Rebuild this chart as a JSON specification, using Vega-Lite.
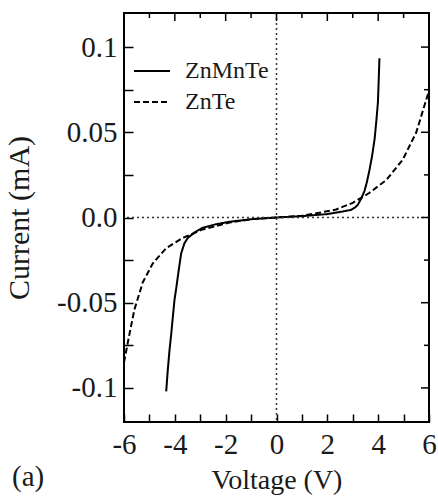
{
  "$schema": "https://vega.github.io/schema/vega-lite/v6.json",
  "width": 305,
  "height": 409,
  "autosize": {"type": "none"},
  "padding": {"left": 124, "top": 13, "right": 9, "bottom": 78},
  "background": "white",
  "title": {"text": "(a)", "orient": "bottom", "anchor": "start", "frame": "group", "font": "Liberation Serif", "fontSize": 29, "fontWeight": "normal", "color": "#1a1a1a", "dx": -112, "dy": -35},
  "config": {
    "font": "Liberation Serif",
    "view": {"stroke": "black", "strokeWidth": 2},
    "axis": {"domain": false, "grid": false, "ticks": true, "tickColor": "black", "tickWidth": 1.5, "labelFont": "Liberation Serif", "labelFontSize": 29, "labelColor": "#1a1a1a", "titleFont": "Liberation Serif", "titleFontSize": 28, "titleFontWeight": "normal", "titleColor": "#1a1a1a"},
    "legend": {"labelFont": "Liberation Serif", "labelFontSize": 24, "labelColor": "#1a1a1a"}
  },
  "datasets": {
    "xticks": [
      {"v": -6, "kind": "major"}, {"v": -5, "kind": "minor"}, {"v": -4, "kind": "major"}, {"v": -3, "kind": "minor"},
      {"v": -2, "kind": "major"}, {"v": -1, "kind": "minor"}, {"v": 0, "kind": "major"}, {"v": 1, "kind": "minor"},
      {"v": 2, "kind": "major"}, {"v": 3, "kind": "minor"}, {"v": 4, "kind": "major"}, {"v": 5, "kind": "minor"}, {"v": 6, "kind": "major"}
    ],
    "yticks": [
      {"v": -0.1, "kind": "major"}, {"v": -0.075, "kind": "minor"}, {"v": -0.05, "kind": "major"}, {"v": -0.025, "kind": "minor"},
      {"v": 0, "kind": "major"}, {"v": 0.025, "kind": "minor"}, {"v": 0.05, "kind": "major"}, {"v": 0.075, "kind": "minor"}, {"v": 0.1, "kind": "major"}
    ]
  },
  "data": {"values": [
    {"sample": "ZnMnTe", "i": 1, "voltage": -4.34, "current": -0.102},
    {"sample": "ZnMnTe", "i": 2, "voltage": -4.28, "current": -0.09},
    {"sample": "ZnMnTe", "i": 3, "voltage": -4.21, "current": -0.078},
    {"sample": "ZnMnTe", "i": 4, "voltage": -4.14, "current": -0.068},
    {"sample": "ZnMnTe", "i": 5, "voltage": -4.07, "current": -0.057},
    {"sample": "ZnMnTe", "i": 6, "voltage": -4.01, "current": -0.048},
    {"sample": "ZnMnTe", "i": 7, "voltage": -3.94, "current": -0.041},
    {"sample": "ZnMnTe", "i": 8, "voltage": -3.88, "current": -0.0345},
    {"sample": "ZnMnTe", "i": 9, "voltage": -3.81, "current": -0.027},
    {"sample": "ZnMnTe", "i": 10, "voltage": -3.75, "current": -0.021},
    {"sample": "ZnMnTe", "i": 11, "voltage": -3.62, "current": -0.015},
    {"sample": "ZnMnTe", "i": 12, "voltage": -3.49, "current": -0.012},
    {"sample": "ZnMnTe", "i": 13, "voltage": -3.2, "current": -0.0085},
    {"sample": "ZnMnTe", "i": 14, "voltage": -2.9, "current": -0.006},
    {"sample": "ZnMnTe", "i": 15, "voltage": -2.4, "current": -0.004},
    {"sample": "ZnMnTe", "i": 16, "voltage": -1.85, "current": -0.0025},
    {"sample": "ZnMnTe", "i": 17, "voltage": -1.0, "current": -0.001},
    {"sample": "ZnMnTe", "i": 18, "voltage": 0, "current": 0},
    {"sample": "ZnMnTe", "i": 19, "voltage": 1.0, "current": 0.0008},
    {"sample": "ZnMnTe", "i": 20, "voltage": 2.0, "current": 0.002},
    {"sample": "ZnMnTe", "i": 21, "voltage": 2.6, "current": 0.0035},
    {"sample": "ZnMnTe", "i": 22, "voltage": 2.94, "current": 0.0045},
    {"sample": "ZnMnTe", "i": 23, "voltage": 3.1, "current": 0.006},
    {"sample": "ZnMnTe", "i": 24, "voltage": 3.2, "current": 0.0075},
    {"sample": "ZnMnTe", "i": 25, "voltage": 3.33, "current": 0.011},
    {"sample": "ZnMnTe", "i": 26, "voltage": 3.46, "current": 0.0155},
    {"sample": "ZnMnTe", "i": 27, "voltage": 3.56, "current": 0.021},
    {"sample": "ZnMnTe", "i": 28, "voltage": 3.66, "current": 0.028},
    {"sample": "ZnMnTe", "i": 29, "voltage": 3.76, "current": 0.036},
    {"sample": "ZnMnTe", "i": 30, "voltage": 3.86, "current": 0.046},
    {"sample": "ZnMnTe", "i": 31, "voltage": 3.93, "current": 0.057},
    {"sample": "ZnMnTe", "i": 32, "voltage": 3.99, "current": 0.0675},
    {"sample": "ZnMnTe", "i": 33, "voltage": 4.02, "current": 0.08},
    {"sample": "ZnMnTe", "i": 34, "voltage": 4.05, "current": 0.0935},
    {"sample": "ZnTe", "i": 1, "voltage": -6.0, "current": -0.085},
    {"sample": "ZnTe", "i": 2, "voltage": -5.78, "current": -0.068},
    {"sample": "ZnTe", "i": 3, "voltage": -5.59, "current": -0.054},
    {"sample": "ZnTe", "i": 4, "voltage": -5.26, "current": -0.038},
    {"sample": "ZnTe", "i": 5, "voltage": -4.87, "current": -0.027},
    {"sample": "ZnTe", "i": 6, "voltage": -4.34, "current": -0.018},
    {"sample": "ZnTe", "i": 7, "voltage": -3.69, "current": -0.012},
    {"sample": "ZnTe", "i": 8, "voltage": -2.9, "current": -0.007},
    {"sample": "ZnTe", "i": 9, "voltage": -1.85, "current": -0.003},
    {"sample": "ZnTe", "i": 10, "voltage": -1.0, "current": -0.001},
    {"sample": "ZnTe", "i": 11, "voltage": 0, "current": 0},
    {"sample": "ZnTe", "i": 12, "voltage": 1.0, "current": 0.001},
    {"sample": "ZnTe", "i": 13, "voltage": 1.69, "current": 0.0028},
    {"sample": "ZnTe", "i": 14, "voltage": 2.35, "current": 0.0047},
    {"sample": "ZnTe", "i": 15, "voltage": 3.0, "current": 0.0086},
    {"sample": "ZnTe", "i": 16, "voltage": 3.66, "current": 0.0145},
    {"sample": "ZnTe", "i": 17, "voltage": 4.32, "current": 0.022},
    {"sample": "ZnTe", "i": 18, "voltage": 4.97, "current": 0.034},
    {"sample": "ZnTe", "i": 19, "voltage": 5.5, "current": 0.05},
    {"sample": "ZnTe", "i": 20, "voltage": 5.95, "current": 0.072},
    {"sample": "ZnTe", "i": 21, "voltage": 6.0, "current": 0.075}
  ]},
  "layer": [
    {
      "mark": {"type": "line", "strokeWidth": 2, "color": "black"},
      "encoding": {
        "x": {"field": "voltage", "type": "quantitative", "scale": {"domain": [-6, 6], "nice": false, "zero": false},
          "axis": {"orient": "bottom", "values": [-6,-5,-4,-3,-2,-1,0,1,2,3,4,5,6],
            "labelExpr": "datum.value % 2 === 0 ? '' + datum.value : ''",
            "tickSize": -8,
            "encode": {"ticks": {"update": {"y2": {"signal": "datum.value % 2 === 0 ? -8 : -5"}}}},
            "labelPadding": 16, "labelFlush": false, "title": "Voltage (V)", "titlePadding": 7}},
        "y": {"field": "current", "type": "quantitative", "scale": {"domain": [-0.12, 0.12], "nice": false, "zero": false},
          "axis": {"orient": "left", "values": [-0.1,-0.075,-0.05,-0.025,0,0.025,0.05,0.075,0.1],
            "labelExpr": "datum.value === 0 ? '0.0' : (round(abs(datum.value) * 40) % 2 === 0 ? '' + datum.value : '')",
            "tickSize": -9,
            "encode": {"ticks": {"update": {"x2": {"signal": "round(abs(datum.value) * 40) % 2 === 0 ? 9 : 5"}}}},
            "labelPadding": 16, "labelFlush": false, "title": "Current (mA)", "titleFontSize": 30, "titlePadding": 22}},
        "strokeDash": {"field": "sample", "type": "nominal",
          "scale": {"domain": ["ZnMnTe", "ZnTe"], "range": [[1, 0], [6, 3]]},
          "legend": {"orient": "none", "legendX": 9, "legendY": 39, "title": null, "padding": 0,
            "symbolType": "stroke", "symbolSize": 1296, "symbolStrokeWidth": 2, "symbolStrokeColor": "black",
            "labelFont": "Liberation Serif", "labelFontSize": 24, "labelColor": "#1a1a1a", "labelOffset": 14, "rowPadding": 0}},
        "order": {"field": "i", "type": "quantitative"}
      }
    },
    {
      "data": {"values": [{"v": 0}]},
      "mark": {"type": "rule", "strokeDash": [2, 3], "strokeWidth": 1.5, "color": "#333"},
      "encoding": {"x": {"field": "v", "type": "quantitative", "axis": null}}
    },
    {
      "data": {"values": [{"v": 0}]},
      "mark": {"type": "rule", "strokeDash": [2, 3], "strokeWidth": 1.5, "color": "#333"},
      "encoding": {"y": {"field": "v", "type": "quantitative", "axis": null}}
    },
    {
      "data": {"name": "xticks"},
      "mark": {"type": "tick", "orient": "vertical", "clip": true, "thickness": 1.5, "color": "black", "opacity": 1},
      "encoding": {
        "x": {"field": "v", "type": "quantitative", "axis": null},
        "y": {"datum": 0.12, "type": "quantitative", "axis": null},
        "size": {"field": "kind", "type": "nominal", "scale": {"domain": ["major", "minor"], "range": [16, 10]}, "legend": null}
      }
    },
    {
      "data": {"name": "yticks"},
      "mark": {"type": "tick", "orient": "horizontal", "clip": true, "thickness": 1.5, "color": "black", "opacity": 1},
      "encoding": {
        "y": {"field": "v", "type": "quantitative", "axis": null},
        "x": {"datum": 6, "type": "quantitative", "axis": null},
        "size": {"field": "kind", "type": "nominal", "scale": {"domain": ["major", "minor"], "range": [18, 10]}, "legend": null}
      }
    }
  ],
  "resolve": {"axis": {"x": "independent", "y": "independent"}}
}
